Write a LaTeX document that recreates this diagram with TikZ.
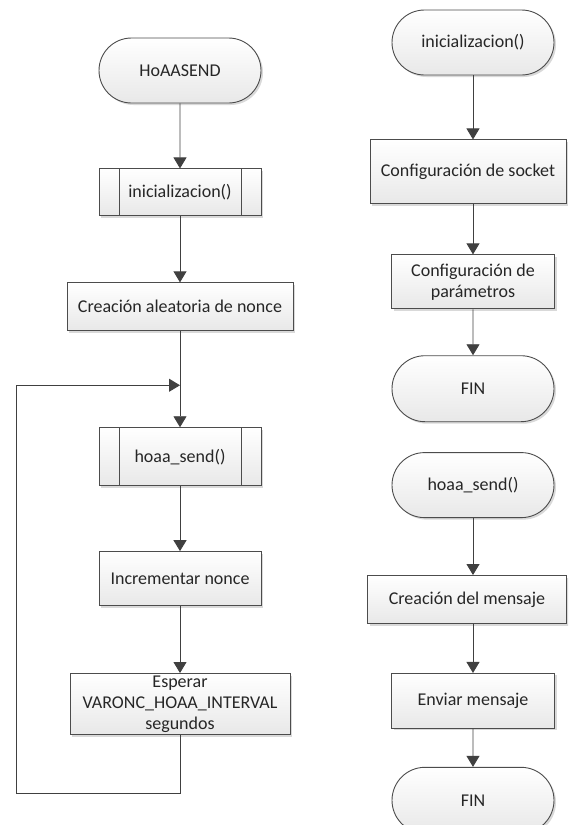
\documentclass[tikz,border=0pt]{standalone}
\usepackage{fontspec}
\setmainfont{Carlito}
\usepackage{tikz}
\usetikzlibrary{positioning, arrows.meta, shapes.misc, shadows}

\tikzset{
  box/.style={draw=black!70, line width=0.9pt, top color=white, bottom color=black!9,
    drop shadow={shadow xshift=2pt, shadow yshift=-2pt, fill=black!25, opacity=0.6},
    text=black!85, font=\fontsize{18}{21}\selectfont, inner sep=0pt, align=center},
  term/.style={box, rounded rectangle, minimum width=162pt, minimum height=65pt},
  proc/.style={box, rectangle},
  subproc/.style={proc, path picture={
      \draw[-, black!70, line width=0.9pt]
        ([xshift=20pt]path picture bounding box.north west) -- ([xshift=20pt]path picture bounding box.south west)
        ([xshift=-20pt]path picture bounding box.north east) -- ([xshift=-20pt]path picture bounding box.south east);}},
  flow/.style={color=black!75, line width=0.9pt}
}

\begin{document}
\begin{tikzpicture}[x=1pt, y=1pt, ->, >={Triangle[length=11pt,width=13pt]}]
    \clip (0,0) rectangle (568,-825);
    % main program
    \node[term] (start) at (180,-70.5) {HoAASEND};
    \node[subproc, minimum width=162pt, minimum height=47pt] (init) [below=65pt of start] {inicializacion()};
    \node[proc, minimum width=226pt, minimum height=48pt] (nonce) [below=66pt of init] {Creación aleatoria de nonce};
    \node[subproc, minimum width=162pt, minimum height=58pt] (send) [below=96pt of nonce] {hoaa\_send()};
    \node[proc, minimum width=162pt, minimum height=54pt] (incr) [below=65pt of send] {Incrementar nonce};
    \node[proc, minimum width=220pt, minimum height=61pt] (wait) [below=67pt of incr] {Esperar\\VARONC\_HOAA\_INTERVAL\\segundos};
    \coordinate (join) at ([yshift=-54pt]nonce.south);
    \coordinate (lb) at ([yshift=-58pt]wait.south);
    \coordinate (ll) at ([xshift=-164pt]join);
    \path[flow] (start) edge (init)
          (init) edge (nonce)
          (nonce) edge (send)
          (send) edge (incr)
          (incr) edge (wait);
    \draw[flow] (wait.south) -- (lb) -| (ll) -- (join);
    % inicializacion()
    \node[term] (ini) at (473,-42.5) {inicializacion()};
    \node[proc, minimum width=196pt, minimum height=64pt] (sock) [below=64pt of ini, xshift=-5pt] {Configuración de socket};
    \node[proc, minimum width=163pt, minimum height=54pt] (param) [below=50pt of sock, xshift=5pt] {Configuración de\\parámetros};
    \node[term, minimum height=66pt] (fin1) [below=46pt of param] {FIN};
    % hoaa_send()
    \node[term] (hs) [below=30pt of fin1] {hoaa\_send()};
    \node[proc, minimum width=199pt, minimum height=48pt] (mkmsg) [below=57pt of hs, xshift=-6pt] {Creación del mensaje};
    \node[proc, minimum width=163pt, minimum height=55pt] (sendmsg) [below=49pt of mkmsg, xshift=6pt] {Enviar mensaje};
    \node[term, minimum height=66pt] (fin2) [below=38pt of sendmsg] {FIN};
    \coordinate (sockin) at (ini.south |- sock.north);
    \coordinate (sockout) at (param.north |- sock.south);
    \coordinate (msgin) at (hs.south |- mkmsg.north);
    \coordinate (msgout) at (sendmsg.north |- mkmsg.south);
    \path[flow] (ini.south) edge (sockin)
          (sockout) edge (param.north)
          (param) edge (fin1)
          (hs.south) edge (msgin)
          (msgout) edge (sendmsg.north)
          (sendmsg) edge (fin2);
\end{tikzpicture}
\end{document}
